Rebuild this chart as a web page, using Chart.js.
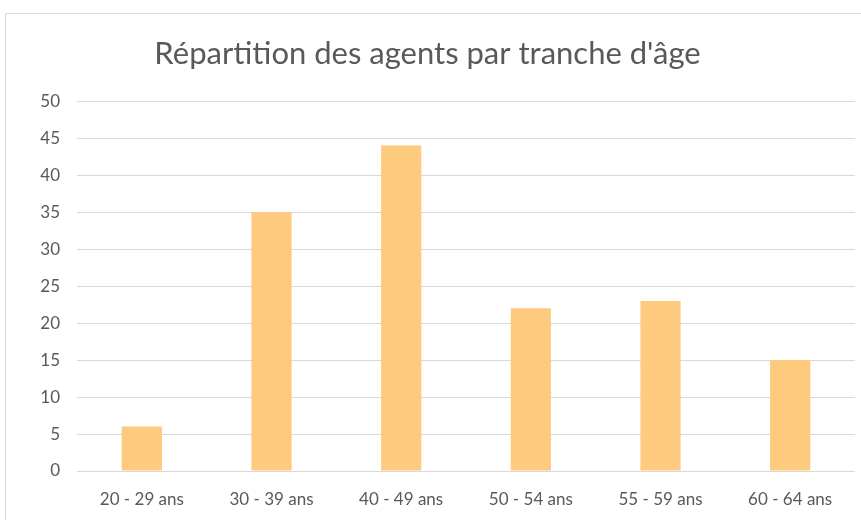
<!DOCTYPE html>
<html>
<head>
<meta charset="utf-8">
<script src="https://cdn.jsdelivr.net/npm/chart.js@4"></script>
<style>
  html, body { margin: 0; padding: 0; background: #fff; overflow: hidden; }
  #wrap { position: relative; width: 861px; height: 520px; }
  #frame { position: absolute; left: 5px; top: 13px; width: 900px; height: 600px; border: 1px solid #d9d9d9; box-sizing: border-box; }
  canvas { position: absolute; left: 0; top: 0; }
</style>
</head>
<body>
<div id="wrap">
  <div id="frame"></div>
  <canvas id="ageChart" width="861" height="520"></canvas>
</div>
<script>
const tranches = ["20 - 29 ans", "30 - 39 ans", "40 - 49 ans", "50 - 54 ans", "55 - 59 ans", "60 - 64 ans"];
const agents = [6, 35, 44, 22, 23, 15];
const yTicks = [0, 5, 10, 15, 20, 25, 30, 35, 40, 45, 50];

const textColor = "#595959";
const gridColor = "#d9d9d9";
const fontFamily = "Lato, 'Open Sans', sans-serif";

const ctx = document.getElementById("ageChart").getContext("2d");

new Chart(ctx, {
  type: "bar",
  data: {
    labels: tranches,
    datasets: [{
      label: "Agents",
      data: agents,
      backgroundColor: "#fdca7e",
      borderWidth: 0,
      categoryPercentage: 1,
      barPercentage: 0.31
    }]
  },
  options: {
    responsive: false,
    animation: false,
    layout: { padding: { left: 0, right: 6, top: 0, bottom: 0 } },
    plugins: {
      legend: { display: false },
      tooltip: { enabled: false },
      title: {
        display: true,
        text: "Répartition des agents par tranche d'âge",
        color: textColor,
        font: { family: fontFamily, size: 31, weight: "normal" },
        padding: { top: 35, bottom: 29 }
      }
    },
    scales: {
      x: {
        grid: { display: false, drawTicks: false },
        border: { display: false },
        afterFit: scale => { scale.height = 49; },
        ticks: { color: textColor, font: { family: fontFamily, size: 17 }, padding: 18, maxRotation: 0 }
      },
      y: {
        min: 0,
        max: 50,
        afterBuildTicks: scale => { scale.ticks = yTicks.map(v => ({ value: v })); },
        afterFit: scale => { scale.width = 77; },
        grid: { color: gridColor, lineWidth: 1, drawTicks: false },
        border: { display: false },
        ticks: { color: textColor, font: { family: fontFamily, size: 17 }, padding: 17 }
      }
    }
  }
});
</script>
</body>
</html>
